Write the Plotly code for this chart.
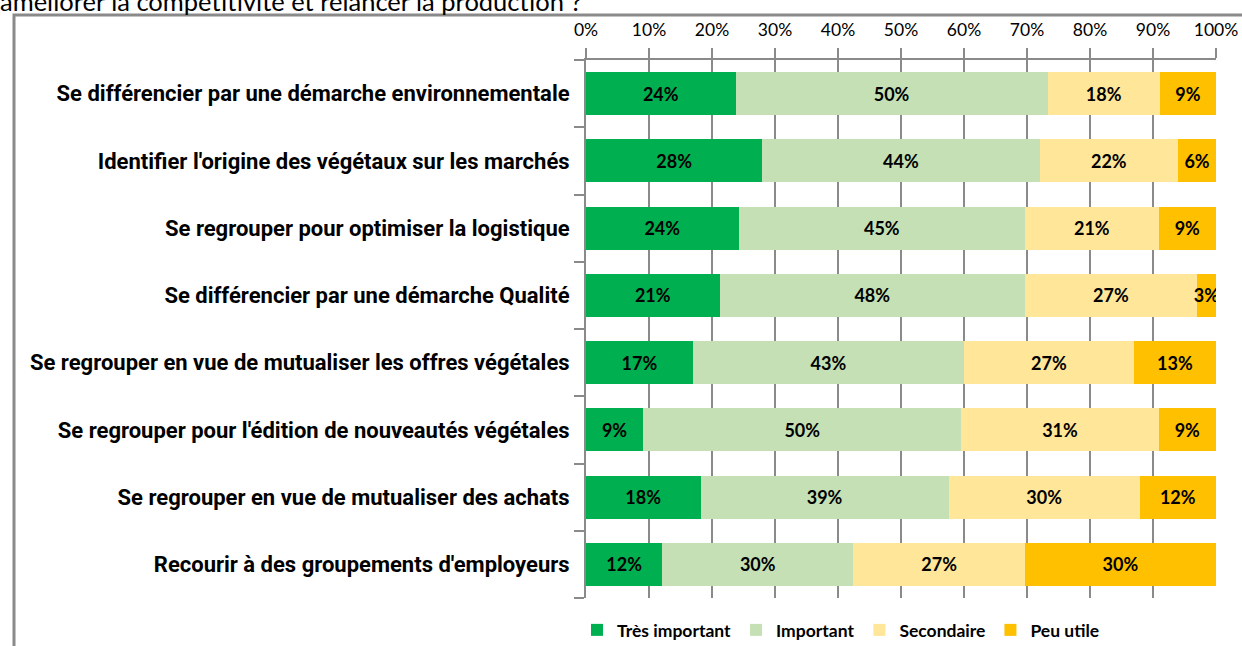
import plotly.graph_objects as go

categories = [
    "Se différencier par une démarche environnementale",
    "Identifier l'origine des végétaux sur les marchés",
    "Se regrouper pour optimiser la logistique",
    "Se différencier par une démarche Qualité",
    "Se regrouper en vue de mutualiser les offres végétales",
    "Se regrouper pour l'édition de nouveautés végétales",
    "Se regrouper en vue de mutualiser des achats",
    "Recourir à des groupements d'employeurs",
]
series_names = ["Très important", "Important", "Secondaire", "Peu utile"]
tres_important = [24, 28, 24, 21, 17, 9, 18, 12]
important = [50, 44, 45, 48, 43, 50, 39, 30]
secondaire = [18, 22, 21, 27, 27, 31, 30, 27]
peu_utile = [9, 6, 9, 3, 13, 9, 12, 30]
colors = ["#00B050", "#C4E0B4", "#FFE699", "#FFC000"]
tick_vals = [0, 10, 20, 30, 40, 50, 60, 70, 80, 90, 100]
tick_text = [f"{v}%" for v in tick_vals]
title_text = "améliorer la compétitivité et relancer la production ?"

W, H = 1242, 646
L, R, T, B = 586, 26, 60, 48
pw, ph = W - L - R, H - T - B

fig = go.Figure()
for name, vals, col in zip(series_names, [tres_important, important, secondaire, peu_utile], colors):
    fig.add_trace(go.Bar(
        y=categories, x=vals, name=name, orientation="h",
        marker=dict(color=col, line=dict(width=0)),
        text=[f"{v}%" for v in vals], textposition="inside", textangle=0,
        insidetextanchor="middle", constraintext="none",
        textfont=dict(family="Lato, Carlito, sans-serif", size=18, color="black", weight="bold"),
        hoverinfo="skip",
    ))

grey = "#8A8A8A"

def px_x(x):
    return (x - L) / pw

def px_y(y):
    return 1 - (y - T) / ph

fig.update_layout(
    width=W, height=H, barmode="stack", barnorm="percent", bargap=0.36,
    plot_bgcolor="white", paper_bgcolor="white",
    margin=dict(l=L, r=R, t=T, b=B, autoexpand=False),
    uniformtext=dict(mode="show", minsize=18),
    legend=dict(orientation="h", x=px_x(577), xanchor="left", y=px_y(630), yanchor="middle",
                font=dict(family="Lato, Carlito, sans-serif", size=17.5, color="black", weight="bold"),
                traceorder="normal", itemwidth=30),
    xaxis=dict(side="top", range=[0, 100], tickvals=tick_vals, ticktext=tick_text,
               showgrid=True, gridcolor=grey, gridwidth=2, zeroline=False,
               showline=True, linecolor=grey, linewidth=2, automargin=False,
               ticks="outside", ticklen=10, tickwidth=2, tickcolor=grey, ticklabelstandoff=5,
               tickfont=dict(family="Lato, Carlito, sans-serif", size=17.5, color="black")),
    yaxis=dict(categoryorder="array", categoryarray=categories[::-1],
               showline=True, linecolor=grey, linewidth=2, showgrid=False, automargin=False,
               ticks="outside", ticklen=10, tickwidth=2, tickcolor=grey, tickson="boundaries",
               ticklabelstandoff=10,
               tickfont=dict(family="Roboto, sans-serif", size=22, color="black", weight="bold")),
    showlegend=True,
)

fig.add_shape(type="rect", xref="paper", yref="paper",
              x0=px_x(14), x1=px_x(1300), y0=px_y(15), y1=px_y(700),
              line=dict(color=grey, width=3), fillcolor="rgba(0,0,0,0)", layer="below")
fig.add_annotation(xref="paper", yref="paper", x=px_x(-2), y=px_y(1), xanchor="left", yanchor="middle",
                   text=title_text, showarrow=False,
                   font=dict(family="Lato, Carlito, sans-serif", size=25.5, color="black"))

fig.write_html("out.html", config={"displayModeBar": False},
               post_script="document.body.style.margin='0';document.body.style.padding='0';")
